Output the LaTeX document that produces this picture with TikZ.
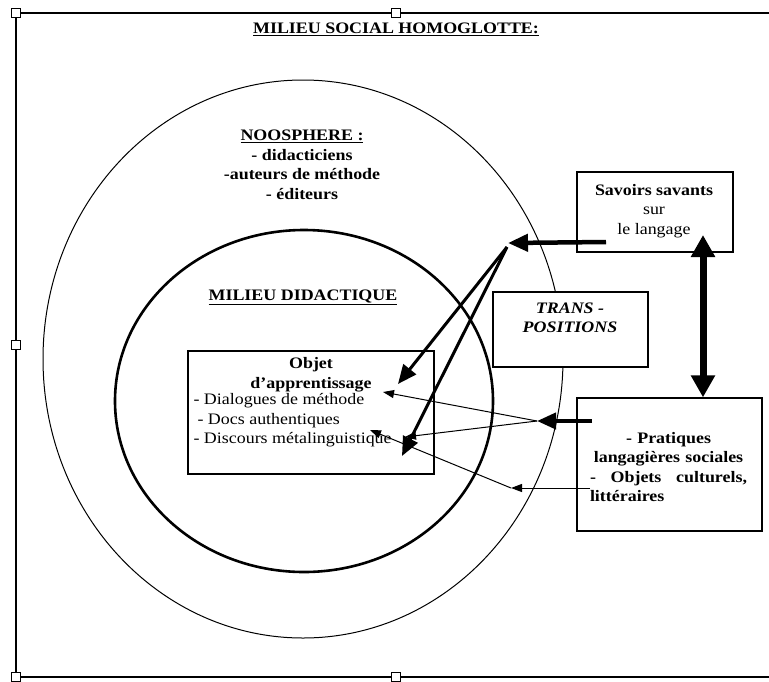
\documentclass[tikz,border=0pt]{standalone}
\usepackage{fontspec}
\setmainfont[FakeStretch=1.12]{Liberation Serif}
\usepackage{tikz}
\usetikzlibrary{positioning,arrows.meta}

\begin{document}
\fontsize{16}{19.5}\selectfont
\begin{tikzpicture}[x=1pt, y=-1pt,
        boite/.style={draw, fill=white, line width=1.3pt, inner sep=0pt},
        poignee/.style={draw, fill=white, line width=1pt, minimum size=9pt, inner sep=0pt},
        gros/.style={line width=3pt, -{Triangle[length=19pt, width=16pt]}},
        fin/.style={line width=1pt, -{Triangle[length=11pt, width=8pt]}}]
        \useasboundingbox (0,0) rectangle (769,681);
        \draw[line width=1.4pt] (769,13) -- (16,13) -- (16,677) -- (769,677);
        \foreach \px/\py in {16/13, 396/13, 16/345, 16/677, 396/677}
          \node[poignee] at (\px,\py) {};

        \draw[line width=1pt] (303,359) ellipse [x radius=260pt, y radius=279pt];
        \draw[line width=2.6pt] (304,401) ellipse [x radius=189pt, y radius=171pt];

        \node[font=\bfseries, anchor=base] (titre) at (396,33.5) {\underline{MILIEU SOCIAL HOMOGLOTTE:}};
        \node[font=\bfseries, align=center, inner sep=0pt, anchor=north] (noo) at (302,130) {\underline{NOOSPHERE :}\\- didacticiens\\-auteurs de méthode\\- éditeurs};
        \node[font=\bfseries, anchor=base] (milieu) at (303,300) {\underline{MILIEU DIDACTIQUE}};

        \node[boite, minimum width=246pt, minimum height=123pt] (objet) at (311,412.5) {};
        \node[font=\bfseries, align=center, inner sep=0pt, below=7pt of objet.north] (objtitre) {Objet\\d’apprentissage};
        \node[align=left, inner sep=0pt, below right=43pt and 6pt of objet.north west] (liste) {- Dialogues de méthode\\\hspace{4pt}- Docs authentiques\\- Discours métalinguistique};

        \node[boite, minimum width=156pt, minimum height=80pt] (savoirs) at (655,212) {};
        \node[align=center, inner sep=0pt] (savtxt) at (654,211) {\textbf{Savoirs savants}\\sur\\le langage};

        \node[boite, minimum width=155pt, minimum height=75pt] (trans) at (570.5,329.5) {};
        \node[font=\bfseries\itshape, align=center, inner sep=0pt] (transtxt) at (570,318) {TRANS -\\POSITIONS};

        \node[boite, minimum width=185pt, minimum height=133pt] (pratiques) at (669.5,464.5) {};
        \node[font=\bfseries, align=center, text width=157pt, inner sep=0pt] (pratxt) at (668.5,467) {- Pratiques\\langagières sociales\\\makebox[157pt]{-\hfill Objets\hfill culturels,}\\\makebox[157pt][l]{littéraires}};

        \coordinate (s1) at (606,242);
        \coordinate (j1) at (508,243);
        \coordinate (j1b) at (507,247);
        \coordinate (c1) at (398,384);
        \coordinate (c2) at (402,456);
        \coordinate (d1) at (703,235);
        \coordinate (s2) at (592,421);
        \coordinate (j2) at (537,421);
        \coordinate (c3) at (383,392);
        \coordinate (c4) at (405,437);
        \coordinate (s3) at (590,488);
        \coordinate (j3) at (511,488);
        \coordinate (c5) at (370,430);

        \draw[line width=4.5pt, -{Triangle[length=20pt, width=17pt]}] (s1) -- (j1);
        \draw[gros] (j1b) -- (c1);
        \draw[gros] (j1b) -- (c2);
        \draw[line width=7pt, {Triangle[length=22pt, width=23pt]}-{Triangle[length=22pt, width=23pt]}] (d1) -- (pratiques.north -| d1);
        \draw[line width=4pt, -{Triangle[length=19pt, width=16pt]}] (s2) -- (j2);
        \draw[fin] (j2) -- (c3);
        \draw[fin] (j2) -- (c4);
        \draw[fin] (s3) -- (j3);
        \draw[fin] (j3) -- (c5);
\end{tikzpicture}
\end{document}
